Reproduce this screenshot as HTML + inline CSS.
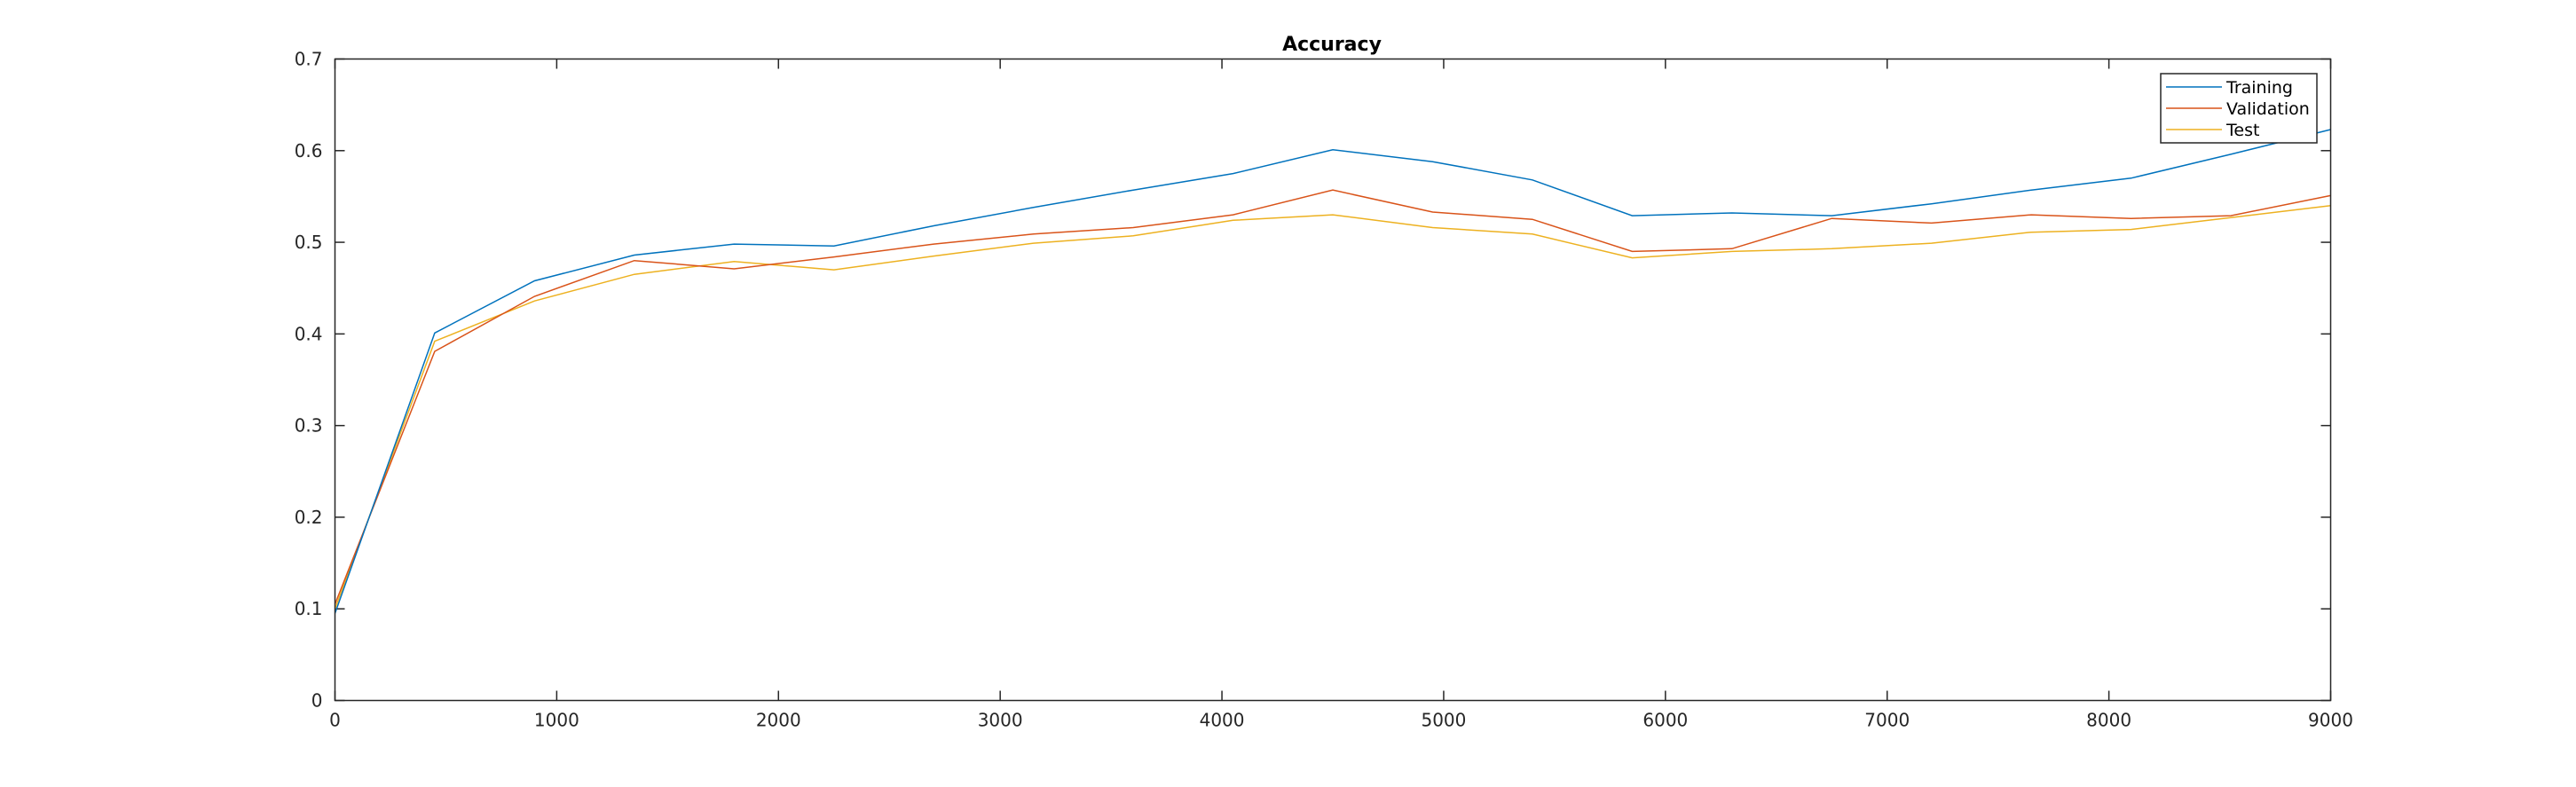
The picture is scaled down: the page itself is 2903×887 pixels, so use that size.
<!DOCTYPE html>
<html><head><meta charset="utf-8"><style>
html,body{margin:0;padding:0;background:#fff;}
svg{display:block;font-family:"DejaVu Sans","Liberation Sans",sans-serif;}
</style></head><body>
<svg id="chart" width="2903" height="887" viewBox="0 0 2903 887">
<text x="1501" y="57" text-anchor="middle" font-size="22" font-weight="bold" fill="#000">Accuracy</text>
<g id="grid"></g>
<g id="series"></g>
<rect x="377.5" y="66.5" width="2249" height="723" fill="none" stroke="#262626" stroke-width="1.5"/>
<g>
<rect x="2435" y="83" width="176" height="78" fill="#fff" stroke="#262626" stroke-width="1.5"/>
<line x1="2441" y1="98" x2="2504" y2="98" stroke="#0072BD" stroke-width="1.5"/>
<text x="2509" y="105" font-size="19" fill="#000">Training</text>
<line x1="2441" y1="122" x2="2504" y2="122" stroke="#D95319" stroke-width="1.5"/>
<text x="2509" y="129" font-size="19" fill="#000">Validation</text>
<line x1="2441" y1="146" x2="2504" y2="146" stroke="#EDB120" stroke-width="1.5"/>
<text x="2509" y="153" font-size="19" fill="#000">Test</text>
</g>
</svg>
<script>
const xValues = [0,450,900,1350,1800,2250,2700,3150,3600,4050,4500,4950,5400,5850,6300,6750,7200,7650,8100,8550,9000];
const training = [0.095,0.401,0.458,0.486,0.498,0.496,0.518,0.538,0.557,0.575,0.601,0.588,0.568,0.529,0.532,0.529,0.542,0.557,0.570,0.596,0.623];
const validation = [0.105,0.381,0.441,0.480,0.471,0.484,0.498,0.509,0.516,0.530,0.557,0.533,0.525,0.490,0.493,0.526,0.521,0.530,0.526,0.529,0.551];
const test = [0.100,0.392,0.436,0.465,0.479,0.470,0.485,0.499,0.507,0.524,0.530,0.516,0.509,0.483,0.490,0.493,0.499,0.511,0.514,0.527,0.540];
const xTicks = [0,1000,2000,3000,4000,5000,6000,7000,8000,9000];
const yTicks = [0,0.1,0.2,0.3,0.4,0.5,0.6,0.7];

const NS = "http://www.w3.org/2000/svg";
const L = 377.5, R = 2626.5, T = 66.5, B = 789.5;
function xs(v){ return L + (v - 0) / 9000 * (R - L); }
function ys(v){ return B - (v - 0) / 0.7 * (B - T); }
const grid = document.getElementById('grid');
const seriesG = document.getElementById('series');
function mk(tag, attrs, parent){ const e = document.createElementNS(NS, tag); for (const k in attrs) e.setAttribute(k, attrs[k]); parent.appendChild(e); return e; }

xTicks.forEach(function(t){
  const x = xs(t);
  const a = mk('line', {x1:x, y1:B, x2:x, y2:B-11, stroke:'#262626', 'stroke-width':1.5}, grid);
  
  
  const b = mk('line', {x1:x, y1:T, x2:x, y2:T+11, stroke:'#262626', 'stroke-width':1.5}, grid);
  
  
  const tx = mk('text', {x:x, y:B+29, 'text-anchor':'middle', 'font-size':20, fill:'#262626'}, grid);
  tx.textContent = String(t);
  
  
});
yTicks.forEach(function(t){
  const y = ys(t);
  const a = mk('line', {x1:L, y1:y, x2:L+11, y2:y, stroke:'#262626', 'stroke-width':1.5}, grid);
  
  
  const b = mk('line', {x1:R, y1:y, x2:R-11, y2:y, stroke:'#262626', 'stroke-width':1.5}, grid);
  
  
  const tx = mk('text', {x:L-14, y:y+7, 'text-anchor':'end', 'font-size':20, fill:'#262626'}, grid);
  tx.textContent = String(t);
  
  
});
function drawLine(vals, color, name){
  const pts = vals.map(function(v,i){ return xs(xValues[i]).toFixed(1) + ',' + ys(v).toFixed(1); }).join(' ');
  const p = mk('polyline', {points:pts, fill:'none', stroke:color, 'stroke-width':1.5}, seriesG);
  
  
}
drawLine(test, '#EDB120', 'test-line');
drawLine(validation, '#D95319', 'validation-line');
drawLine(training, '#0072BD', 'training-line');
</script>
</body></html>
